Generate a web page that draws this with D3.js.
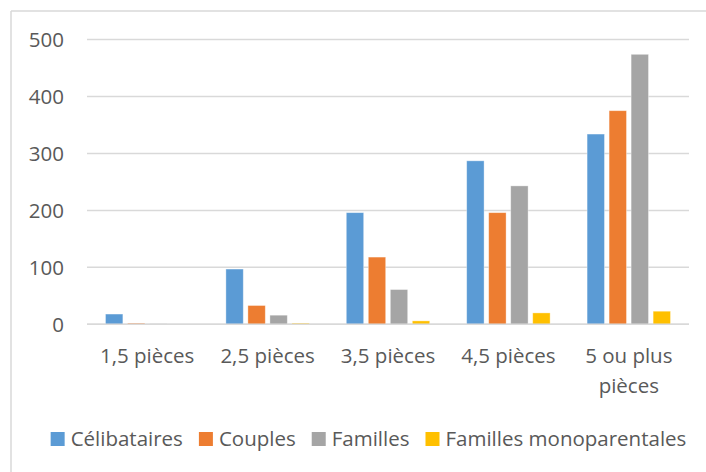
<!DOCTYPE html>
<html>
<head>
<meta charset="utf-8">
<script src="https://cdn.jsdelivr.net/npm/d3@7/dist/d3.min.js"></script>
<style>
  html, body { margin: 0; padding: 0; background: #fff; }
  svg { display: block; }
  text { font-family: "Open Sans", sans-serif; fill: #595959; }
</style>
</head>
<body>
<svg id="chart" width="706" height="472"></svg>
<script>
const categories = ["1,5 pièces", "2,5 pièces", "3,5 pièces", "4,5 pièces", "5 ou plus pièces"];
const series = ["Célibataires", "Couples", "Familles", "Familles monoparentales"];
const celibataires = [18, 97, 196, 287, 334];
const couples = [2, 33, 118, 196, 375];
const familles = [1, 16, 61, 243, 474];
const monoparentales = [0, 2, 6, 20, 23];
const yTicks = [0, 100, 200, 300, 400, 500];
const colors = ["#5B9BD5", "#ED7D31", "#A5A5A5", "#FFC000"];

const values = [celibataires, couples, familles, monoparentales];
const data = categories.map((c, i) => ({
  cat: c,
  vals: series.map((s, j) => ({ series: s, value: values[j][i], color: colors[j] }))
}));

const svg = d3.select("#chart");
const fontSize = 20.5;

// frame (cropped chart border)
svg.append("line").attr("x1", 11).attr("x2", 11).attr("y1", 11).attr("y2", 472)
  .attr("stroke", "#D9D9D9").attr("stroke-width", 1.5);
svg.append("line").attr("x1", 11).attr("x2", 706).attr("y1", 11).attr("y2", 11)
  .attr("stroke", "#D9D9D9").attr("stroke-width", 1.5);

const plotLeft = 87, plotRight = 689, plotTop = 39.5, plotBottom = 324.3;

const x0 = d3.scaleBand().domain(categories).range([plotLeft, plotRight]).padding(0);
const x1 = d3.scaleBand().domain(series).range([0, x0.bandwidth()])
  .paddingInner(0.21).paddingOuter(0.84);
const y = d3.scaleLinear().domain([0, 500]).range([plotBottom, plotTop]);

// gridlines
svg.append("g").selectAll("line").data(yTicks).join("line")
  .attr("x1", plotLeft).attr("x2", plotRight)
  .attr("y1", d => y(d)).attr("y2", d => y(d))
  .attr("stroke", "#D9D9D9").attr("stroke-width", 1.5);

// y labels
svg.append("g").selectAll("text").data(yTicks).join("text")
  .attr("x", 64).attr("y", d => y(d)).attr("dy", "0.36em")
  .attr("text-anchor", "end").attr("font-size", fontSize)
  .text(d => d);

// bars
const groups = svg.append("g").selectAll("g").data(data).join("g")
  .attr("transform", d => `translate(${x0(d.cat)},0)`);
groups.selectAll("rect").data(d => d.vals).join("rect")
  .attr("x", d => x1(d.series))
  .attr("width", x1.bandwidth())
  .attr("y", d => y(d.value))
  .attr("height", d => y(0) - y(d.value))
  .attr("fill", d => d.color)
  .attr("stroke", "#fff").attr("stroke-opacity", 0.45).attr("stroke-width", 0.8);

// zero line on top
svg.append("line").attr("x1", plotLeft).attr("x2", plotRight)
  .attr("y1", y(0)).attr("y2", y(0))
  .attr("stroke", "#D9D9D9").attr("stroke-width", 1.5);

// x labels (wrapped like the reference)
const xLabelLines = {"5 ou plus pièces": ["5 ou plus", "pièces"]};
const xl = svg.append("g").selectAll("text").data(categories).join("text")
  .attr("text-anchor", "middle").attr("font-size", fontSize)
  .attr("x", d => x0(d) + x0.bandwidth() / 2).attr("y", 362.5);
xl.each(function(d) {
  const lines = xLabelLines[d] || [d];
  const t = d3.select(this);
  lines.forEach((ln, i) => {
    t.append("tspan").attr("x", x0(d) + x0.bandwidth() / 2)
      .attr("y", 362.5 + i * 30.5).text(ln);
  });
});

// legend
const legend = svg.append("g");
const sq = 14, gapText = 6, gapItem = 16, baseY = 446;
const items = legend.selectAll("g").data(series).join("g");
items.append("rect").attr("width", sq).attr("height", sq).attr("y", baseY - sq)
  .attr("fill", (d, i) => colors[i]);
items.append("text").attr("x", sq + gapText).attr("y", baseY)
  .attr("font-size", fontSize).text(d => d);
let cx = 0;
const widths = [];
items.each(function() {
  const w = sq + gapText + d3.select(this).select("text").node().getComputedTextLength();
  widths.push(w);
});
const total = d3.sum(widths) + gapItem * (widths.length - 1);
const startX = 368.5 - total / 2;
items.attr("transform", (d, i) => {
  const tx = startX + cx;
  cx += widths[i] + gapItem;
  return `translate(${tx},0)`;
});
</script>
</body>
</html>
